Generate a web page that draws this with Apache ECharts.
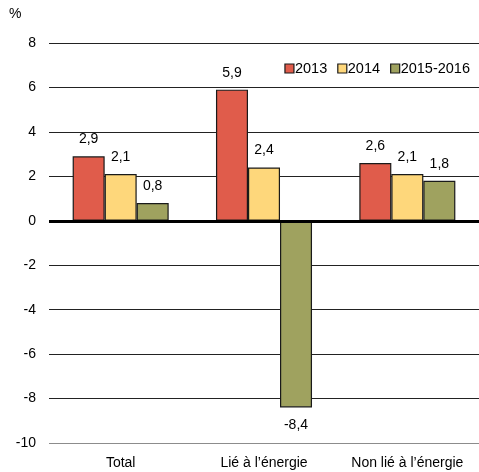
<!DOCTYPE html>
<html>
<head>
<meta charset="utf-8">
<script src="https://cdn.jsdelivr.net/npm/echarts@6/dist/echarts.min.js"></script>
<style>
  html, body { margin: 0; padding: 0; background: #fff; }
  #chart { width: 479px; height: 472px; }
</style>
</head>
<body>
<div id="chart"></div>
<script>
var categories = ["Total", "Lié à l’énergie", "Non lié à l’énergie"];
var values2013 = [2.9, 5.9, 2.6];
var values2014 = [2.1, 2.4, 2.1];
var values2015 = [0.8, -8.4, 1.8];
var seriesNames = ["2013", "2014", "2015-2016"];
var colors = ["#E05C4B", "#FED77B", "#9FA25F"];

var chart = echarts.init(document.getElementById("chart"));

function fmt(p) {
  return p.value.toFixed(1).replace(".", ",");
}

function makeSeries(name, data, color) {
  return {
    name: name,
    type: "bar",
    data: data,
    barGap: "0%",
    barCategoryGap: "33%",
    itemStyle: { color: color, borderColor: "#1a1a1a", borderWidth: 1.2 },
    label: {
      show: true,
      position: "top",
      distance: 10,
      color: "#000",
      fontSize: 14,
      formatter: fmt
    }
  };
}

var s = [
  makeSeries(seriesNames[0], values2013, colors[0]),
  makeSeries(seriesNames[1], values2014, colors[1]),
  makeSeries(seriesNames[2], values2015, colors[2])
];
// negative value label below the bar
s[2].data = values2015.map(function (v) {
  return v < 0 ? { value: v, label: { position: "bottom", distance: 11 } } : v;
});

// bottom gridline is grey, others dark
var gridColors = ["#8c8c8c", "#222", "#222", "#222", "#222", "#222", "#222", "#222", "#222", "#222"];

chart.setOption({
  animation: false,
  textStyle: { fontFamily: "Liberation Sans, Arial, sans-serif" },
  grid: { left: 49, right: 0, top: 43, bottom: 29 },
  graphic: [{
    type: "text",
    left: 9,
    top: 7,
    style: { text: "%", fontSize: 14, fill: "#000", fontFamily: "Liberation Sans, Arial, sans-serif" }
  }],
  legend: {
    right: 4,
    top: 56,
    itemWidth: 9,
    itemHeight: 9,
    itemGap: 10,
    icon: "rect",
    itemStyle: { borderColor: "#1a1a1a", borderWidth: 1.2 },
    textStyle: { fontSize: 14.5, color: "#000", padding: [0, 0, 0, -4] },
    data: seriesNames
  },
  xAxis: {
    type: "category",
    data: categories,
    axisLine: { show: false },
    axisTick: { show: false },
    axisLabel: { color: "#000", fontSize: 14, margin: 13, interval: 0, hideOverlap: false }
  },
  yAxis: {
    type: "value",
    min: -10,
    max: 8,
    interval: 2,
    axisLine: { show: false },
    axisTick: { show: false },
    axisLabel: { color: "#000", fontSize: 14, margin: 13 },
    splitLine: { lineStyle: { color: gridColors, width: 1 } }
  },
  series: s.concat([{
    type: "line",
    data: [],
    markLine: {
      silent: true,
      symbol: "none",
      label: { show: false },
      lineStyle: { color: "#000", width: 3, type: "solid" },
      data: [{ yAxis: 0 }]
    }
  }])
});
</script>
</body>
</html>
